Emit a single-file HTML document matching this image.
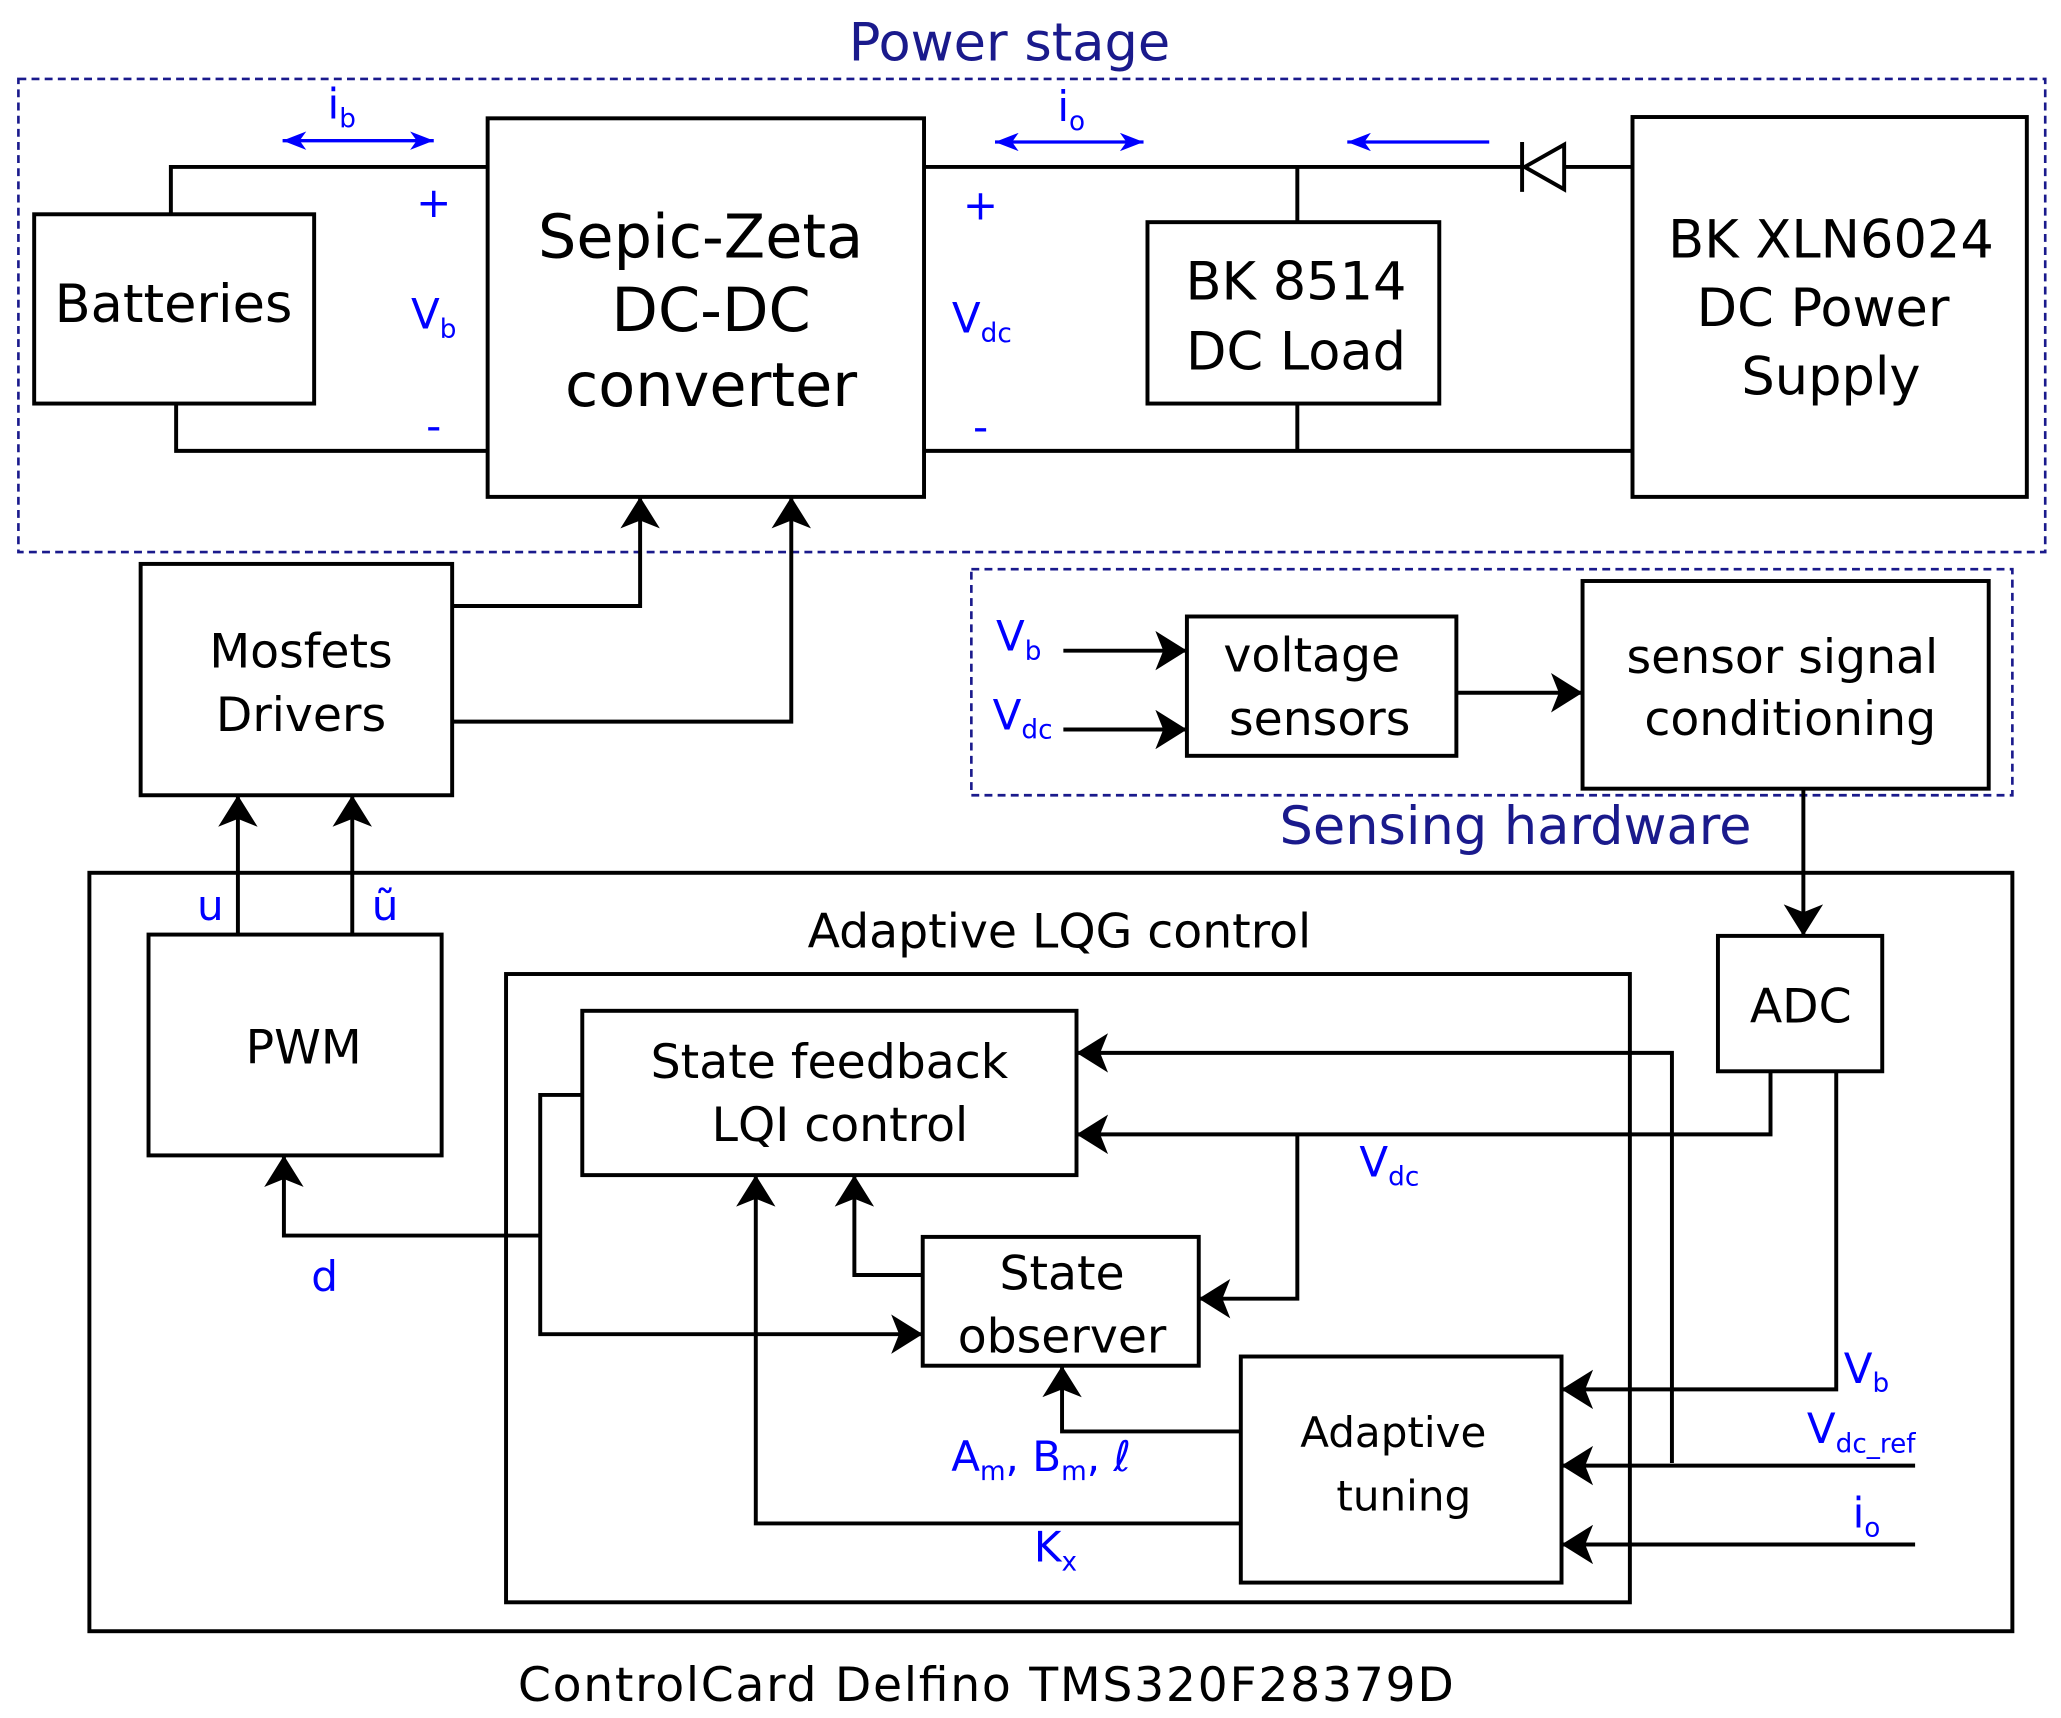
<!DOCTYPE html>
<html><head><meta charset="utf-8"><style>html,body{margin:0;padding:0;background:#fff}svg{display:block}</style></head>
<body>
<svg xmlns="http://www.w3.org/2000/svg" width="2061" height="1718" viewBox="0 0 1568 1307" font-family="DejaVu Sans, Liberation Sans, sans-serif">
<defs>
<marker id="a" viewBox="0 0 24 30" refX="24" refY="15" markerWidth="24" markerHeight="30" markerUnits="userSpaceOnUse" orient="auto"><path d="M0,0 L24,15 L0,30 L6,15 Z" fill="#000"/></marker>
<marker id="b" viewBox="0 0 18 14" refX="18" refY="7" markerWidth="18" markerHeight="14" markerUnits="userSpaceOnUse" orient="auto"><path d="M0,0 L18,7 L0,14 L5,7 Z" fill="#00f"/></marker>
<marker id="bs" viewBox="0 0 18 14" refX="0" refY="7" markerWidth="18" markerHeight="14" markerUnits="userSpaceOnUse" orient="auto"><path d="M18,0 L0,7 L18,14 L13,7 Z" fill="#00f"/></marker>
</defs>
<g fill="none" stroke="#1a1a8c" stroke-width="2" stroke-dasharray="6,4">
<rect x="14" y="60" width="1542" height="360"/>
<rect x="739" y="433" width="792" height="172"/>
</g>
<g fill="none" stroke="#000" stroke-width="3">
<rect x="26" y="163" width="213" height="144"/>
<rect x="371" y="90" width="332" height="288"/>
<rect x="873" y="169" width="222" height="138"/>
<rect x="1242" y="89" width="300" height="289"/>
<rect x="107" y="429" width="237" height="176"/>
<rect x="903" y="469" width="205" height="106"/>
<rect x="1204" y="442" width="309" height="158"/>
<rect x="68" y="664" width="1463" height="577"/>
<rect x="113" y="711" width="223" height="168"/>
<rect x="385" y="741" width="855" height="478"/>
<rect x="1307" y="712" width="125" height="103"/>
<rect x="443" y="769" width="376" height="125"/>
<rect x="702" y="941" width="210" height="98"/>
<rect x="944" y="1032" width="244" height="172"/>
<polyline points="130,163 130,127 371,127"/>
<polyline points="134,307 134,343 371,343"/>
<line x1="703" y1="127" x2="1158" y2="127"/>
<line x1="1190" y1="127" x2="1242" y2="127"/>
<line x1="703" y1="343" x2="1242" y2="343"/>
<line x1="987" y1="127" x2="987" y2="169"/>
<line x1="987" y1="307" x2="987" y2="343"/>
<path d="M1190,110 L1190,144 L1160,127 Z"/>
<line x1="1158" y1="108" x2="1158" y2="146"/>
</g>
<g fill="none" stroke="#000" stroke-width="3" marker-end="url(#a)">
<polyline points="344,461 487,461 487,378"/>
<polyline points="344,549 602,549 602,378"/>
<line x1="809" y1="495" x2="903" y2="495"/>
<line x1="809" y1="555" x2="903" y2="555"/>
<line x1="1108" y1="527" x2="1204" y2="527"/>
<line x1="1372" y1="600" x2="1372" y2="712"/>
<line x1="181" y1="711" x2="181" y2="605"/>
<line x1="268" y1="711" x2="268" y2="605"/>
<polyline points="1347,815 1347,863 819,863"/>
<polyline points="987,863 987,988 912,988"/>
<polyline points="1272,1113 1272,801 819,801"/>
<line x1="1457" y1="1115" x2="1188" y2="1115"/>
<polyline points="1397,815 1397,1057 1188,1057"/>
<line x1="1457" y1="1175" x2="1188" y2="1175"/>
<polyline points="443,833 411,833 411,1015 702,1015"/>
<polyline points="411,940 216,940 216,879"/>
<polyline points="702,970 650,970 650,894"/>
<polyline points="944,1089 808,1089 808,1039"/>
<polyline points="944,1159 575,1159 575,894"/>
</g>
<g stroke="#00f" stroke-width="2.5">
<line x1="215" y1="107" x2="330" y2="107" marker-start="url(#bs)" marker-end="url(#b)"/>
<line x1="757" y1="108" x2="870" y2="108" marker-start="url(#bs)" marker-end="url(#b)"/>
<line x1="1133" y1="108" x2="1025" y2="108" marker-end="url(#b)"/>
</g>
<g fill="#1a1a8c" font-size="40" text-anchor="middle">
<text x="768" y="46">Power stage</text>
<text x="1153" y="642">Sensing hardware</text>
</g>
<g fill="#000" text-anchor="middle" font-size="40">
<text x="132" y="245">Batteries</text>
<g font-size="46"><text x="533" y="196">Sepic-Zeta</text><text x="541" y="252">DC-DC</text><text x="541" y="309">converter</text></g>
<text x="986" y="228">BK 8514</text><text x="986" y="281">DC Load</text>
<text x="1393" y="196">BK XLN6024</text><text x="1387" y="248">DC Power</text><text x="1393" y="300">Supply</text>
<g font-size="36"><text x="229" y="508">Mosfets</text><text x="229" y="556">Drivers</text>
<text x="998" y="511">voltage</text><text x="1004" y="559">sensors</text>
<text x="1356" y="512">sensor signal</text><text x="1362" y="559">conditioning</text>
<text x="231" y="809">PWM</text>
<text x="806" y="721">Adaptive LQG control</text>
<text x="1370" y="778">ADC</text>
<text x="631" y="820">State feedback</text><text x="639" y="868">LQI control</text>
<text x="808" y="981">State</text><text x="808" y="1029">observer</text>
<text x="750" y="1294" textLength="712">ControlCard Delfino TMS320F28379D</text></g>
<g font-size="32"><text x="1060" y="1101">Adaptive</text><text x="1068" y="1149">tuning</text></g>
</g>
<g fill="#00f" font-size="32" text-anchor="middle">
<text x="330" y="165">+</text><text x="330" y="335">-</text>
<text x="746" y="167">+</text><text x="746" y="336">-</text>
<text x="330" y="250">V<tspan font-size="20" dy="7">b</tspan></text>
<text x="747" y="253">V<tspan font-size="20" dy="7">dc</tspan></text>
<text x="260" y="90">i<tspan font-size="20" dy="7">b</tspan></text>
<text x="815" y="92">i<tspan font-size="20" dy="7">o</tspan></text>
<text x="775" y="495">V<tspan font-size="20" dy="7">b</tspan></text>
<text x="778" y="555">V<tspan font-size="20" dy="7">dc</tspan></text>
<text x="160" y="700">u</text><text x="293" y="700">ũ</text>
<text x="247" y="982">d</text>
<text x="1057" y="895">V<tspan font-size="20" dy="7">dc</tspan></text>
<text x="1420" y="1052">V<tspan font-size="20" dy="7">b</tspan></text>
<text x="1416" y="1098">V<tspan font-size="20" dy="7">dc_ref</tspan></text>
<text x="1420" y="1162">i<tspan font-size="20" dy="7">o</tspan></text>
<text x="792" y="1119">A<tspan font-size="20" dy="7">m</tspan><tspan dy="-7">, B</tspan><tspan font-size="20" dy="7">m</tspan><tspan dy="-7">, ℓ</tspan></text>
<text x="803" y="1188">K<tspan font-size="20" dy="7">x</tspan></text>
</g>
</svg>
</body></html>
